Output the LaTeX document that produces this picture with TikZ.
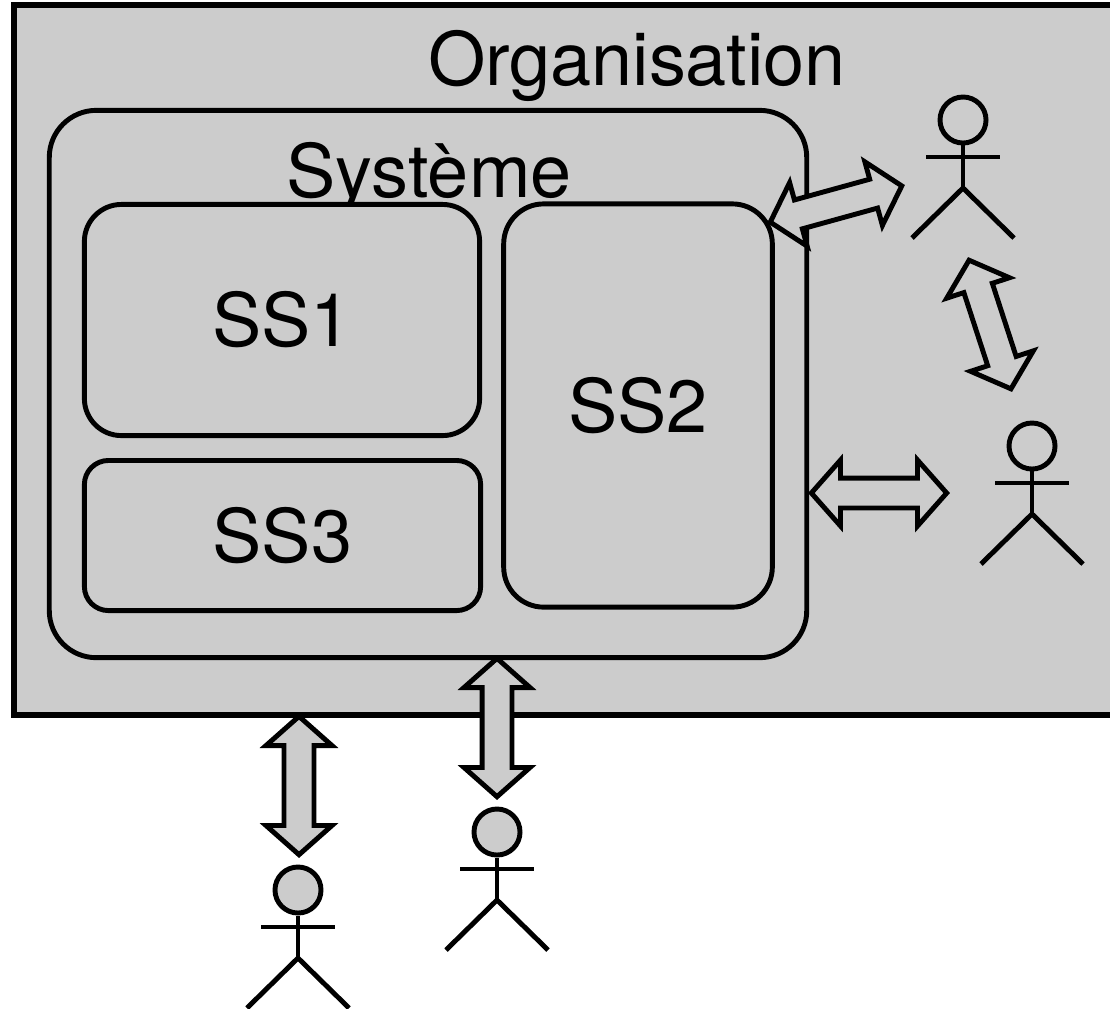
\documentclass[tikz,border=0pt]{standalone}
\usepackage{fontspec}
\setmainfont{TeX Gyre Heros}
\usetikzlibrary{shapes.arrows, calc}

\definecolor{panelgray}{HTML}{CCCCCC}

\tikzset{
    box/.style={rectangle, draw, rounded corners=#1, line width=1.4pt, fill=panelgray, inner sep=0pt},
    dblarrow/.style={double arrow, draw, fill=panelgray, line width=1.4pt, inner xsep=0pt, inner ysep=0.125cm,
        double arrow head extend=0.18cm, double arrow tip angle=97},
    actor/.pic={
        \node[circle, draw, fill=panelgray, line width=1.4pt, minimum size=0.46cm, inner sep=0pt] (-head) at (0,0) {};
        \draw[line width=1.4pt] (-head.south) -- (0,68) coordinate (-hip);
        \draw[line width=1.4pt] (-37,37) -- (37,37);
        \draw[line width=1.4pt] (-51,118) -- (-hip) -- (51,118);
    }
}

% double block arrow between two named points
\newcommand\exchange[2]{%
    \path let \p1=($(#2)-(#1)$), \n1={atan2(\y1,\x1)}, \n2={veclen(\x1,\y1)-1.9pt} in
        node[dblarrow, minimum height=\n2, rotate=\n1] (#1-#2) at ($(#1)!0.5!(#2)$) {};%
}

\begin{document}
\begin{tikzpicture}[x=0.01cm, y=-0.01cm, font=\fontsize{21pt}{25pt}\selectfont]
    \useasboundingbox (0,0) rectangle (1110,1008);
    \clip (0,0) rectangle (1110,1008);

    % Organisation and the system inside it
    \node[draw, fill=panelgray, line width=1.7pt, minimum width=12.46cm, minimum height=7.10cm] (org) at (637,360) {};
    \node[anchor=base] (orglabel) at (637,85) {Organisation};

    \node[box=0.47cm, minimum width=7.57cm, minimum height=5.47cm] (sys) at (428,384) {};
    \node[anchor=base] (syslabel) at (429,197) {Système};

    % Subsystems
    \node[box=0.37cm, minimum width=3.95cm, minimum height=2.31cm] (ss1) at (282,320) {SS1};
    \node[box=0.24cm, minimum width=3.96cm, minimum height=1.50cm] (ss3) at (282.5,535.5) {SS3};
    \node[box=0.40cm, minimum width=2.685cm, minimum height=4.03cm] (ss2) at (638,405.5) {SS2};

    % Actors
    \pic (u1) at (963,120) {actor};
    \pic (u2) at (1032,446) {actor};
    \pic (u3) at (497,832) {actor};
    \pic (u4) at (298,890) {actor};

    % Ends of the exchanges
    \coordinate (e1) at (767,223);
    \coordinate (e2) at (905,185);
    \coordinate (e3) at (968,257);
    \coordinate (e4) at (1012,392);
    \coordinate (e5) at (808,493);
    \coordinate (e6) at (950,493);
    \coordinate (e7) at (497,655);
    \coordinate (e8) at (497,800);
    \coordinate (e9) at (299,713);
    \coordinate (e10) at (299,858);

    \exchange{e1}{e2}
    \exchange{e3}{e4}
    \exchange{e5}{e6}
    \exchange{e7}{e8}
    \exchange{e9}{e10}

\end{tikzpicture}
\end{document}
